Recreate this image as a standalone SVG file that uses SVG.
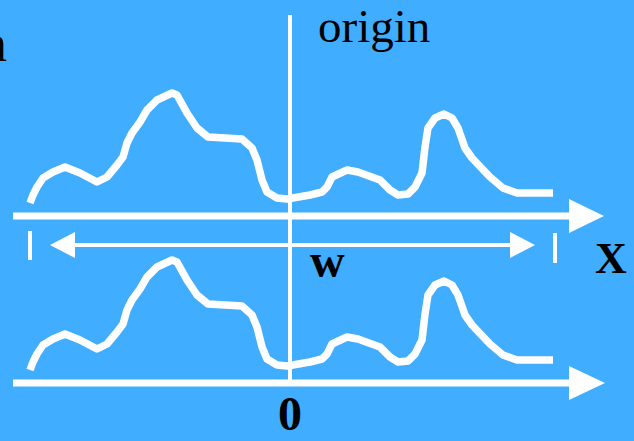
<svg xmlns="http://www.w3.org/2000/svg" xmlns:xlink="http://www.w3.org/1999/xlink" width="634" height="441" viewBox="0 0 634 441">
<style>
.curve{fill:none;stroke:#fff;stroke-width:7.5;stroke-linejoin:round;stroke-linecap:butt}
.axis{stroke:#fff;stroke-width:7}
.thin{stroke:#fff;stroke-width:4}
.head{fill:#fff}
.serif{font-family:"Liberation Serif","Times New Roman",serif;fill:#000}
.bold{font-weight:bold}
</style>
<defs>
<polyline id="signal" class="curve" points="30,203 33,195 37,187 43,178 53,172 65,167 80,173 97,182 107,177 117,165 123,157 127,143 132,133 140,122 147,110 157,100 172,93 177,95 187,113 197,128 208,137 242,139 252,148 257,160 262,180 267,192 277,198 287,199 310,195 322,192 327,187 332,177 347,170 358,172 380,180 390,190 398,195 408,194 415,187 422,173 425,147 428,128 435,118 444,114 452,118 458,128 465,148 472,158 490,177 503,188 517,193 553,193"/>
</defs>
<rect width="634" height="441" fill="#40ADFF"/>
<g id="text-partial"><text class="serif" x="-19" y="61" font-size="52">n</text></g>
<g id="origin-label"><text class="serif" x="318" y="42" font-size="47">origin</text></g>
<g id="signal-top"><use xlink:href="#signal"/></g>
<g id="signal-bottom"><use xlink:href="#signal" transform="translate(0,167)"/></g>
<g id="connectors">
<line class="thin" x1="290" y1="15" x2="290" y2="380"/>
<line class="axis" x1="13" y1="216" x2="571" y2="216"/>
<polygon class="head" points="569,199 604,216 569,233"/>
<line class="axis" x1="13" y1="383" x2="571" y2="383"/>
<polygon class="head" points="569,366 605,383 569,400"/>
<line class="thin" x1="72" y1="245" x2="512" y2="245"/>
<polygon class="head" points="50,245 75,232 75,258"/>
<polygon class="head" points="535,245 510,232 510,258"/>
<line class="thin" x1="30" y1="231" x2="30" y2="260"/>
<line class="thin" x1="555" y1="233" x2="555" y2="263"/>
</g>
<g id="w-label"><text class="serif bold" x="310" y="277" font-size="48">w</text></g>
<g id="x-label"><text class="serif bold" x="595" y="273" font-size="44">X</text></g>
<g id="zero-label"><text class="serif bold" x="278" y="430" font-size="48">0</text></g>
</svg>
